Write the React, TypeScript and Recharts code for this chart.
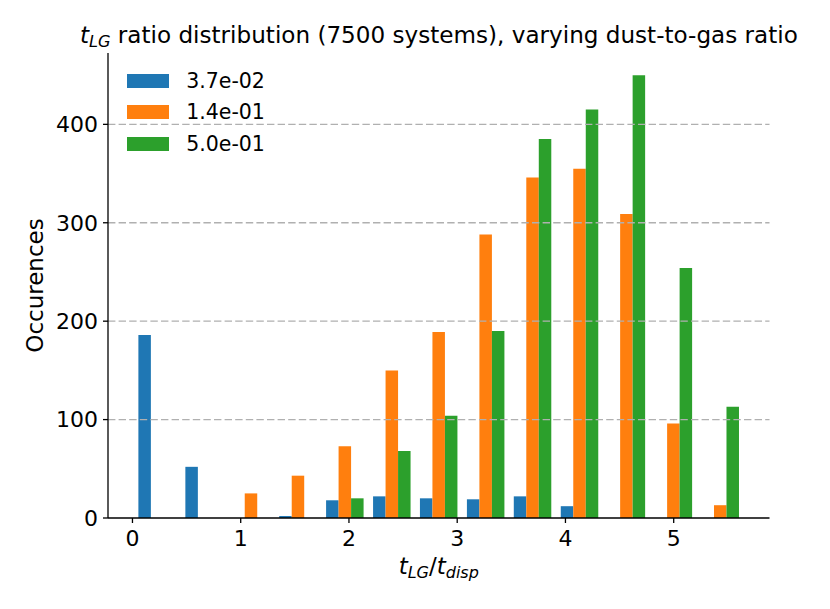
import { BarChart, Bar, XAxis, YAxis, Legend, ReferenceLine, Label } from 'recharts'

const FONT = 'DejaVu Sans'

// histogram bin centres (t_LG / t_disp), 13 bins of width ~0.4335
const binCenters = [0.225, 0.659, 1.092, 1.526, 1.959, 2.393, 2.826, 3.26, 3.693, 4.127, 4.56, 4.994, 5.427]

const seriesNames = ['3.7e-02', '1.4e-01', '5.0e-01']
const seriesColours = ['#1f77b4', '#ff7f0e', '#2ca02c']

const countsLow = [186, 52, 0, 2, 18, 22, 20, 19, 22, 12, 0, 0, 0]
const countsMid = [0, 0, 25, 43, 73, 150, 189, 288, 346, 355, 309, 96, 13]
const countsHigh = [0, 0, 0, 0, 20, 68, 104, 190, 385, 415, 450, 254, 113]

const xTicks = [0, 1, 2, 3, 4, 5]
const yTicks = [0, 100, 200, 300, 400]
const gridLines = [100, 200, 300, 400]

const data = binCenters.map((x, i) => ({
  x,
  s0: countsLow[i],
  s1: countsMid[i],
  s2: countsHigh[i],
}))

const tickStyle = { fill: '#000', fontSize: 22, fontFamily: FONT }

// eslint-disable-next-line @typescript-eslint/no-explicit-any
function LegendBox({ payload }: any) {
  // keep the series order, recharts sorts legend items by name
  const items = [...(payload || [])].sort(
    (a: { value: string }, b: { value: string }) => seriesNames.indexOf(a.value) - seriesNames.indexOf(b.value),
  )
  return (
    <div style={{ fontFamily: FONT, fontSize: 20.5, color: '#000' }}>
      {items.map((entry: { value: string; color: string }, i: number) => (
        <div key={i} style={{ display: 'flex', alignItems: 'center', height: 31.3 }}>
          <span style={{ display: 'inline-block', width: 42, height: 14, background: entry.color, marginRight: 17.5 }} />
          <span>{entry.value}</span>
        </div>
      ))}
    </div>
  )
}

// eslint-disable-next-line @typescript-eslint/no-explicit-any
function XLabel({ viewBox }: any) {
  const cx = viewBox.x + viewBox.width / 2
  return (
    <text x={cx} y={viewBox.y + 56} textAnchor="middle" fontFamily={FONT} fontSize={23} fill="#000" style={{ whiteSpace: 'pre' }}>
      <tspan fontStyle="italic">t</tspan>
      <tspan fontStyle="italic" fontSize={16} dy={4}>LG</tspan>
      <tspan dy={-4}>/</tspan>
      <tspan fontStyle="italic">t</tspan>
      <tspan fontStyle="italic" fontSize={16} dy={4}>disp</tspan>
    </text>
  )
}

// eslint-disable-next-line @typescript-eslint/no-explicit-any
function YLabel({ viewBox }: any) {
  const x = viewBox.x + 27
  const y = viewBox.y + viewBox.height / 2
  return (
    <text x={x} y={y} transform={`rotate(-90, ${x}, ${y})`} textAnchor="middle" dominantBaseline="central"
      fontFamily={FONT} fontSize={23} fill="#000">
      Occurences
    </text>
  )
}

export default function App() {
  return (
    <div style={{ position: 'relative', width: 830, height: 609, margin: -8, background: '#fff' }}>
      <svg width={830} height={60} style={{ position: 'absolute', left: 0, top: 0 }}>
        <text x={438.9} y={43.3} textAnchor="middle" fontFamily={FONT} fontSize={23.1} fill="#000" style={{ whiteSpace: 'pre' }}>
          <tspan fontStyle="italic">t</tspan>
          <tspan fontStyle="italic" fontSize={16.2} dy={4}>LG</tspan>
          <tspan dy={-4}> ratio distribution (7500 systems), varying dust-to-gas ratio</tspan>
        </text>
      </svg>
      <BarChart width={830} height={609} data={data} barGap={0}
        margin={{ top: 53, right: 60.5, bottom: 31, left: 8 }}>
        <XAxis type="number" dataKey="x" domain={[-0.226, 5.885]} allowDataOverflow ticks={xTicks} interval={0}
          height={60} tick={tickStyle} tickSize={5} tickMargin={7.5}
          axisLine={{ stroke: '#000', strokeWidth: 1.3 }} tickLine={{ stroke: '#000', strokeWidth: 1.3 }}>
          <Label content={XLabel} />
        </XAxis>
        <YAxis type="number" domain={[0, 472.5]} allowDataOverflow ticks={yTicks} interval={0}
          width={100} tick={tickStyle} tickSize={5} tickMargin={5}
          axisLine={{ stroke: '#000', strokeWidth: 1.3 }} tickLine={{ stroke: '#000', strokeWidth: 1.3 }}>
          <Label content={YLabel} />
        </YAxis>
        <Legend layout="vertical" align="center" verticalAlign="middle" content={LegendBox}
          wrapperStyle={{ left: 126.7, top: 65.4, width: 220, height: 100 }} />
        {['s0', 's1', 's2'].map((key, i) => (
          <Bar key={key} dataKey={key} name={seriesNames[i]} fill={seriesColours[i]}
            barSize={12.5} isAnimationActive={false} />
        ))}
        {gridLines.map((v) => (
          <ReferenceLine key={v} y={v} stroke="#b0b0b0" strokeWidth={1.3} strokeDasharray="7.4 3.2" />
        ))}
      </BarChart>
    </div>
  )
}
